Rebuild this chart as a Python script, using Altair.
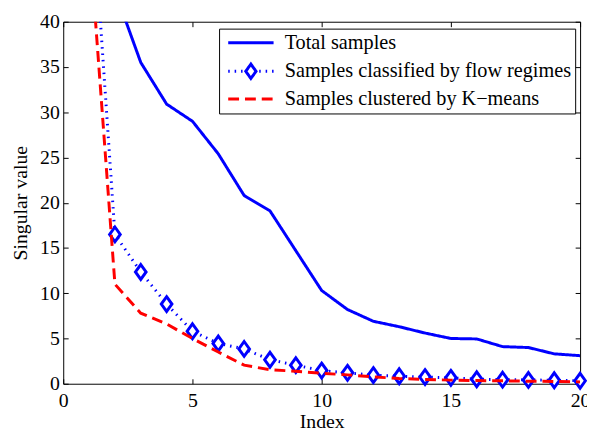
import altair as alt
import pandas as pd

# ---- data ----
index = list(range(1, 21))
total = [62.0, 43.4, 35.5, 30.9, 29.0, 25.4, 20.8, 19.1, 14.7, 10.3,
         8.2, 6.9, 6.3, 5.6, 5.0, 4.95, 4.1, 4.0, 3.3, 3.1]
classified = [58.4, 16.5, 12.35, 8.8, 5.8, 4.45, 3.85, 2.65, 2.05, 1.45,
              1.2, 0.95, 0.83, 0.73, 0.65, 0.5, 0.45, 0.42, 0.38, 0.33]
kmeans = [49.7, 11.0, 7.8, 6.6, 5.0, 3.5, 2.05, 1.55, 1.38, 1.16,
          0.98, 0.76, 0.58, 0.47, 0.4, 0.35, 0.32, 0.28, 0.25, 0.2]
names = ["Total samples", "Samples classified by flow regimes", "Samples clustered by K\u2212means"]
x_ticks = [0, 5, 10, 15, 20]
y_ticks = [0, 5, 10, 15, 20, 25, 30, 35, 40]

df = pd.DataFrame({
    "index": index * 3,
    "value": total + classified + kmeans,
    "series": [n for n in names for _ in index],
})

FONT = "Liberation Serif"
BLUE = "#0000ff"
RED = "#ff0000"
DIAMOND = "M0,-1L0.72,0L0,1L-0.72,0Z"
INWARD = {"expr": "-5"}
DOTTED = [1.5, 5]

# legend symbols: plain line, and dotted line with a diamond in the middle
SYM_LINE = "M-3,0L3,0"
SYM_DIAMOND = ("M-3,0L-2.8,0M-2.15,0L-1.95,0M-1.3,0L-1.1,0"
               "M1.1,0L1.3,0M1.95,0L2.15,0M2.8,0L3,0"
               "M0,-0.95L0.68,0L0,0.95L-0.68,0Z")

xs = alt.Scale(domain=[0, 20], nice=False, zero=False)
ys = alt.Scale(domain=[0, 40], nice=False)

color_scale = alt.Scale(domain=names, range=[BLUE, BLUE, RED])
dash_scale = alt.Scale(domain=names, range=[[1, 0], [1, 0], [11, 6]])
shape_scale = alt.Scale(domain=names, range=[SYM_LINE, SYM_DIAMOND, SYM_LINE])

main_legend = alt.Legend(
    title=None, orient="none", legendX=158, legendY=7,
    strokeColor="black", padding=4,
    labelFont=FONT, labelFontSize=20.5, labelColor="black", labelLimit=0,
    symbolSize=235, symbolStrokeWidth=3, symbolOpacity=1,
    symbolOffset=18, labelOffset=24, rowPadding=4,
)

label_x = alt.Axis(orient="bottom", values=x_ticks, ticks=True, tickSize=INWARD, tickColor="black",
                   domain=False, grid=False, labelFlush=False,
                   labelFont=FONT, labelFontSize=20, labelColor="black", labelPadding=12,
                   title="Index", titleFont=FONT, titleFontSize=20, titleFontWeight="normal",
                   titleColor="black", titlePadding=1)
label_y = alt.Axis(orient="left", values=y_ticks, ticks=True, tickSize=INWARD, tickColor="black",
                   domain=False, grid=False, labelFlush=False,
                   labelFont=FONT, labelFontSize=20, labelColor="black", labelPadding=9,
                   title="Singular value", titleFont=FONT, titleFontSize=20,
                   titleFontWeight="normal", titleColor="black", titlePadding=9)


def tick_axis(orient, vals):
    return alt.Axis(orient=orient, values=vals, labels=False, domain=False, grid=False,
                    ticks=True, tickSize=INWARD, tickColor="black", tickWidth=1, title=None)


def line_layer(name, xaxis, yaxis, dash=None):
    enc = dict(
        x=alt.X("index:Q", scale=xs, axis=xaxis),
        y=alt.Y("value:Q", scale=ys, axis=yaxis),
        color=alt.Color("series:N", scale=color_scale, legend=main_legend),
    )
    if dash is None:
        enc["strokeDash"] = alt.StrokeDash("series:N", scale=dash_scale, legend=main_legend)
    else:
        enc["strokeDash"] = alt.value(dash)
    return alt.Chart(df).transform_filter(alt.datum.series == name).mark_line(
        clip=True, strokeWidth=3
    ).encode(**enc)


l_total = line_layer(names[0], label_x, label_y)
l_class = line_layer(names[1], None, None, dash=DOTTED)
l_kmeans = line_layer(names[2], tick_axis("top", x_ticks), tick_axis("right", y_ticks))

points = alt.Chart(df).transform_filter(
    (alt.datum.series == names[1]) & (alt.datum.value <= 40)
).mark_point(filled=False, fill="white", stroke=BLUE, color=BLUE, strokeWidth=3,
             size=225, opacity=1, fillOpacity=1, shape=DIAMOND).encode(
    x=alt.X("index:Q", scale=xs, axis=None),
    y=alt.Y("value:Q", scale=ys, axis=None),
)

# legend-only layer: contributes the per-entry symbol shapes, draws nothing
legend_shapes = alt.Chart(df).transform_filter("false").mark_point(
    filled=False, strokeWidth=3, opacity=1
).encode(
    x=alt.X("index:Q", scale=xs, axis=None),
    y=alt.Y("value:Q", scale=ys, axis=None),
    color=alt.Color("series:N", scale=color_scale, legend=main_legend),
    shape=alt.Shape("series:N", scale=shape_scale, legend=main_legend),
)

chart = alt.layer(l_total, l_class, points, l_kmeans, legend_shapes).resolve_axis(
    x="independent", y="independent"
).properties(
    width=524, height=367,
    padding={"left": 56, "top": 11, "right": 7, "bottom": 45},
    autosize=alt.AutoSizeParams(type="none"),
    background="white",
).configure_view(stroke="black", strokeWidth=1).configure_axis(
    labelFont=FONT, titleFont=FONT, labelColor="black", titleColor="black"
).configure_legend(labelFont=FONT)

chart.save("out.html", embed_options={"renderer": "svg", "actions": False})
